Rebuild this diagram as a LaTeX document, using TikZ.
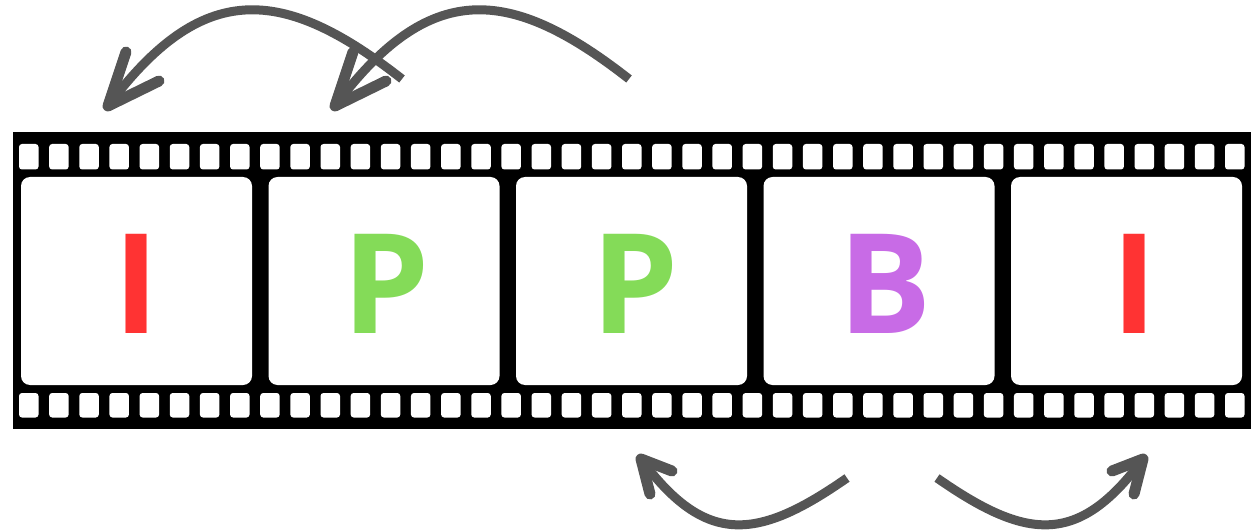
\documentclass[tikz,border=0pt]{standalone}
\usepackage{fontspec}
\newfontfamily\framefont{Open Sans}
\definecolor{ired}{HTML}{FF3333}
\definecolor{pgreen}{HTML}{84DB58}
\definecolor{bpurple}{HTML}{C86BE6}
\definecolor{arrgray}{HTML}{555555}
\begin{document}
\begin{tikzpicture}[x=1pt,y=-1pt,
  framebox/.style={fill=white,rounded corners=9pt,minimum width=231pt,minimum height=208pt,inner sep=0pt,outer sep=0pt,anchor=north west},
  letter/.style={anchor=base,inner sep=0pt,font=\framefont\bfseries\fontsize{139}{139}\selectfont},
  arr/.style={draw=arrgray,line width=9pt,line cap=butt},
  barb/.style={draw=arrgray,line width=11pt,line cap=round,line join=round},
  hole/.style={fill=white,rounded corners=3pt}]
\useasboundingbox (0,0) rectangle (1256,532);
% strip
\node[fill=black,minimum width=1238pt,minimum height=297pt,inner sep=0pt,outer sep=0pt,anchor=north west] (strip) at (13,132) {};
% sprocket holes
\foreach \i in {0,...,40}{
  \fill[hole] ({19+30.15*\i},144) rectangle ++(19.5,25.5);
  \fill[hole] ({19+30.15*\i},393) rectangle ++(19.5,24.5);
}
% frames
\foreach \i in {1,...,5}{
  \node[framebox] (f\i) at ({21+247.5*(\i-1)},177) {};
}
\node[letter,text=ired]    (l1) at (136.5,333) {I};
\node[letter,text=pgreen]  (l2) at (386,333) {P};
\node[letter,text=pgreen]  (l3) at (635.5,333) {P};
\node[letter,text=bpurple] (l4) at (885,333) {B};
\node[letter,text=ired]    (l5) at (1134.5,333) {I};
% top arrows
\coordinate (a1s) at (402,79);  \coordinate (a1t) at (108,106);
\coordinate (a1b1) at (126,52); \coordinate (a1b2) at (159,81);
\draw[arr] (a1s) .. controls (282,-15) and (202,-20) .. (a1t);
\draw[barb] (a1b1) -- (a1t) -- (a1b2);
\coordinate (a2s) at (629,79);  \coordinate (a2t) at (335,106);
\coordinate (a2b1) at (353,52); \coordinate (a2b2) at (386,81);
\draw[arr] (a2s) .. controls (509,-15) and (429,-20) .. (a2t);
\draw[barb] (a2b1) -- (a2t) -- (a2b2);
% bottom arrows
\coordinate (a3s) at (847,478); \coordinate (a3t) at (641,459);
\coordinate (a3b1) at (650,494); \coordinate (a3b2) at (672,471);
\draw[arr] (a3s) .. controls (758,540) and (706,547) .. (a3t);
\draw[barb] (a3b1) -- (a3t) -- (a3b2);
\coordinate (a4s) at (937,478); \coordinate (a4t) at (1143,459);
\coordinate (a4b1) at (1134,494); \coordinate (a4b2) at (1112,471);
\draw[arr] (a4s) .. controls (1026,540) and (1078,547) .. (a4t);
\draw[barb] (a4b1) -- (a4t) -- (a4b2);
\end{tikzpicture}
\end{document}
